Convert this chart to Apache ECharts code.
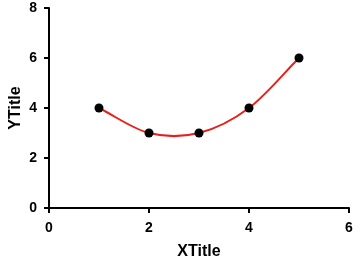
<!DOCTYPE html>
<html><head><meta charset="utf-8">
<script src="https://cdn.jsdelivr.net/npm/echarts@6/dist/echarts.min.js"></script>
<style>html,body{margin:0;padding:0;background:#fff}#c{width:359px;height:266px}</style>
</head><body><div id="c"></div>
<script>
const xValues = [1, 2, 3, 4, 5];
const yValues = [4, 3, 3, 4, 6];
const xTicks = [0, 2, 4, 6];
const yTicks = [0, 2, 4, 6, 8];
const xTitle = 'XTitle';
const yTitle = 'YTitle';
const data = xValues.map((x, i) => [x, yValues[i]]);
const font = 'Liberation Sans, Arial, sans-serif';
const axisCommon = {
  axisLine: {show: true, lineStyle: {color: '#000', width: 2}},
  axisTick: {show: true, length: 5, lineStyle: {color: '#000', width: 2}},
  axisLabel: {color: '#000', fontWeight: 'bold', fontSize: 14, fontFamily: font},
  splitLine: {show: false}
};
// Catmull-Rom style curve through the data points, drawn in pixel space via api.coord
function renderCurve(params, api) {
  if (params.dataIndex !== 0) return null;
  const p = data.map(d => api.coord(d));
  const n = p.length;
  const tan = p.map((pt, i) => {
    const a = p[Math.max(i - 1, 0)], b = p[Math.min(i + 1, n - 1)];
    const k = (i === 0 || i === n - 1) ? 1 : 0.5;
    return [(b[0] - a[0]) * k, (b[1] - a[1]) * k];
  });
  let d = 'M' + p[0][0] + ' ' + p[0][1];
  for (let i = 0; i < n - 1; i++) {
    const c1 = [p[i][0] + tan[i][0] / 3, p[i][1] + tan[i][1] / 3];
    const c2 = [p[i + 1][0] - tan[i + 1][0] / 3, p[i + 1][1] - tan[i + 1][1] / 3];
    d += ' C' + c1[0] + ' ' + c1[1] + ' ' + c2[0] + ' ' + c2[1] + ' ' + p[i + 1][0] + ' ' + p[i + 1][1];
  }
  return {type: 'path', shape: {pathData: d}, style: {fill: null, stroke: '#e8201a', lineWidth: 2}};
}
const titleStyle = {fill: '#000', font: 'bold 16px ' + font, align: 'center', verticalAlign: 'middle'};
const chart = echarts.init(document.getElementById('c'));
chart.setOption({
  animation: false,
  grid: {left: 49, right: 10, top: 8, bottom: 58, containLabel: false, outerBoundsMode: 'none'},
  xAxis: Object.assign({}, axisCommon, {
    type: 'value', min: xTicks[0], max: xTicks[xTicks.length - 1], interval: 2,
    axisLabel: Object.assign({}, axisCommon.axisLabel, {margin: 13})
  }),
  yAxis: Object.assign({}, axisCommon, {
    type: 'value', min: yTicks[0], max: yTicks[yTicks.length - 1], interval: 2,
    axisLabel: Object.assign({}, axisCommon.axisLabel, {margin: 12})
  }),
  graphic: [
    {type: 'text', x: 199, y: 252, style: Object.assign({text: xTitle}, titleStyle)},
    {type: 'text', x: 15.5, y: 108, rotation: Math.PI / 2, style: Object.assign({text: yTitle}, titleStyle)}
  ],
  series: [{
    type: 'custom', data: data, renderItem: renderCurve, z: 1, clip: false
  }, {
    type: 'scatter', data: data, symbol: 'circle', symbolSize: 9, z: 2,
    itemStyle: {color: '#000', opacity: 1}
  }]
});
</script></body></html>
